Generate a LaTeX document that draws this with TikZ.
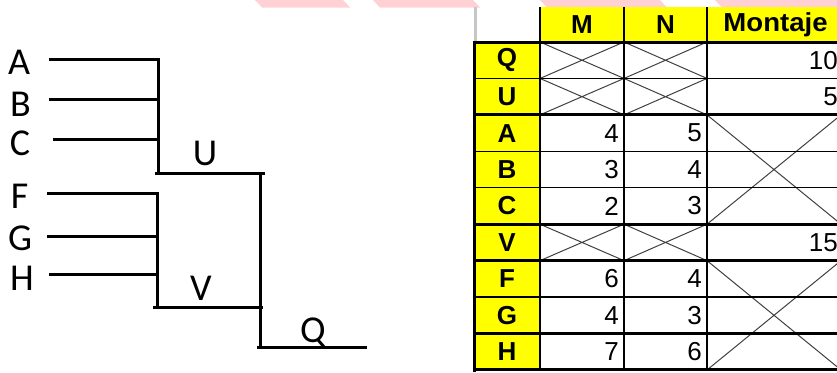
\documentclass[tikz,border=0pt]{standalone}
\usepackage{fontspec}
\setmainfont{Liberation Sans}
\newfontfamily\letrafont{Carlito}
\definecolor{amarillo}{RGB}{255,255,0}
\definecolor{rosa}{RGB}{255,208,212}
\tikzset{
    rama/.style={line width=3pt},
    hoja/.style={font=\letrafont\fontsize{38}{38}\selectfont,inner sep=0pt,anchor=base},
    cabecera/.style={font=\bfseries\fontsize{26}{26}\selectfont,inner sep=0pt},
    valor/.style={font=\fontsize{26}{26}\selectfont,inner sep=0pt,anchor=east},
    rejilla/.style={line width=1.4pt},
    grueso/.style={line width=3pt},
    cruz/.style={line width=1pt,black!75}
}
\begin{document}
\begin{tikzpicture}[x=1pt,y=-1pt]
                \useasboundingbox(0,0)rectangle(837,372);
                \foreach \a/\b in {255/343,373/473,540/660,715/841}
                    \fill[rosa](\a,0)--(\b,0)--(\b+7,7.5)--(\a+7,7.5)--cycle;
                \coordinate(a1)at(49,59.3);\coordinate(a2)at(158.3,59.3);
                \coordinate(b1)at(49,99);\coordinate(b2)at(158.3,99);
                \coordinate(c1)at(53,139);\coordinate(c2)at(158.3,139);
                \coordinate(u1)at(155,173);\coordinate(u2)at(158.3,173);
                \coordinate(u3)at(260,173);\coordinate(u4)at(265,173);
                \coordinate(f1)at(47,193);\coordinate(f2)at(157,193);
                \coordinate(g1)at(47,236);\coordinate(g2)at(157,236);
                \coordinate(h1)at(49,274);\coordinate(h2)at(157,274);
                \coordinate(v1)at(153,307);\coordinate(v2)at(157,307);\coordinate(v3)at(263,307);
                \coordinate(q1)at(257,347.6);\coordinate(q2)at(260,347.6);\coordinate(q3)at(367,347.6);
                \draw[rama](a1)--(a2)--(u2);
                \draw[rama](b1)--(b2);
                \draw[rama](c1)--(c2);
                \draw[rama](u1)--(u4);
                \draw[rama](f1)--(f2)--(v2);
                \draw[rama](g1)--(g2);
                \draw[rama](h1)--(h2);
                \draw[rama](v1)--(v3);
                \draw[rama](u3)--(q2);
                \draw[rama](q1)--(q3);
                \node[hoja](hA)at(19,74){A};
                \node[hoja](hB)at(20.5,116.7){B};
                \node[hoja](hC)at(20,155){C};
                \node[hoja](hF)at(19.5,208){F};
                \node[hoja](hG)at(20,250){G};
                \node[hoja](hH)at(22,290.7){H};
                \node[hoja](hU)at(205,165){U};
                \node[hoja](hV)at(201,300.7){V};
                \node[hoja](hQ)at(313,342){Q};
                \fill[amarillo](474,42)rectangle(540,370);
                \fill[amarillo](540,7)rectangle(841,42);
                \draw[line width=3pt,gray!45](475,7)--(475,42);
                \foreach \f[count=\k from 0] in {Q,U,A,B,C,V,F,G,H}
                    \node[cabecera](f\f)at(507,{42+36.44*(\k+0.5)}){\f};
                \node[cabecera](cM)at(582,24.5){M};
                \node[cabecera](cN)at(665.5,24.5){N};
                \node[cabecera](cT)at(775.5,24.5){\scalebox{1.06}[1]{Montaje}};
                \foreach \f/\m/\n in {A/4/5,B/3/4,C/2/3,F/6/4,G/4/3,H/7/6}{
                    \node[valor](m\f)at(619,0|-f\f){\m};
                    \node[valor](n\f)at(702,0|-f\f){\n};
                }
                \foreach \f/\t in {Q/10,U/5,V/15}
                    \node[valor](t\f)at(838,0|-f\f){\t};
                \foreach \k in {0,1,5}\foreach \xa/\xb in {540/624,624/707}
                    \draw[cruz](\xa,{42+36.44*\k})--(\xb,{42+36.44*(\k+1)})
                        (\xa,{42+36.44*(\k+1)})--(\xb,{42+36.44*\k});
                \foreach \ka/\kb in {2/5,6/9}
                    \draw[cruz](707,{42+36.44*\ka})--(841,{42+36.44*\kb})
                        (707,{42+36.44*\kb})--(841,{42+36.44*\ka});
                \draw[grueso](474,42)--(474,371.5);
                \foreach \x in {540,624,707}\draw[rejilla](\x,7)--(\x,370);
                \foreach \k/\w in {0/3,1/1.4,2/3,3/1.4,4/1.4,5/3,6/3,7/1.4,8/3,9/3}
                    \draw[line width=\w pt](472.5,{42+36.44*\k})--(841,{42+36.44*\k});
            \end{tikzpicture}
\end{document}
